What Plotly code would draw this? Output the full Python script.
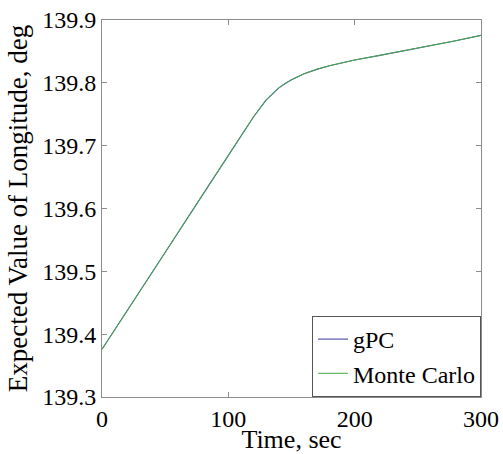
import plotly.graph_objects as go

time_s = [0, 20, 40, 60, 80, 100, 120, 130, 135, 140, 145, 150, 160, 170, 180, 190, 200, 220, 240, 260, 280, 300]
gpc_lon = [139.376, 139.437, 139.499, 139.561, 139.623, 139.685, 139.746, 139.773, 139.783, 139.792, 139.799, 139.805,
           139.8145, 139.8215, 139.8272, 139.8320, 139.8363, 139.8438, 139.8512, 139.8590, 139.8670, 139.8755]
mc_lon = [139.376, 139.437, 139.499, 139.561, 139.623, 139.685, 139.746, 139.773, 139.783, 139.792, 139.799, 139.805,
          139.8145, 139.8215, 139.8272, 139.8320, 139.8363, 139.8438, 139.8512, 139.8590, 139.8670, 139.8755]
x_ticks = [0, 100, 200, 300]
y_ticks = [139.3, 139.4, 139.5, 139.6, 139.7, 139.8, 139.9]

font_family = "Liberation Serif, Times New Roman, serif"

fig = go.Figure()
fig.add_trace(go.Scatter(x=time_s, y=gpc_lon, mode="lines", name="gPC",
                         line=dict(color="#5555aa", width=1.2)))
fig.add_trace(go.Scatter(x=time_s, y=mc_lon, mode="lines", name="Monte Carlo",
                         line=dict(color="#40ac40", width=1)))

axis_common = dict(showline=True, linecolor="#8c8c8c", linewidth=1, mirror="ticks",
                   ticks="inside", ticklen=5, tickcolor="#8c8c8c", showgrid=False, zeroline=False,
                   automargin=False,
                   tickfont=dict(family=font_family, size=24, color="black"))

fig.update_xaxes(range=[0, 300], tickvals=x_ticks, ticktext=[str(v) for v in x_ticks],
                 title=dict(text="Time, sec", font=dict(family=font_family, size=26, color="black"), standoff=0),
                 **axis_common)
fig.update_yaxes(range=[139.3, 139.9], tickvals=y_ticks, ticktext=[f"{v:.1f}" for v in y_ticks],
                 title=dict(text="Expected Value of Longitude, deg", font=dict(family=font_family, size=27, color="black"), standoff=6),
                 **axis_common)

fig.update_layout(
    width=503, height=454,
    margin=dict(l=102, r=22, t=20, b=57, autoexpand=False),
    paper_bgcolor="white", plot_bgcolor="white",
    font=dict(family=font_family, color="black"),
    legend=dict(x=1, y=0, xanchor="right", yanchor="bottom",
                bgcolor="white", bordercolor="#555555", borderwidth=1,
                font=dict(family=font_family, size=24, color="black"),
                itemwidth=30, tracegroupgap=0),
)

fig.write_html("out.html")
